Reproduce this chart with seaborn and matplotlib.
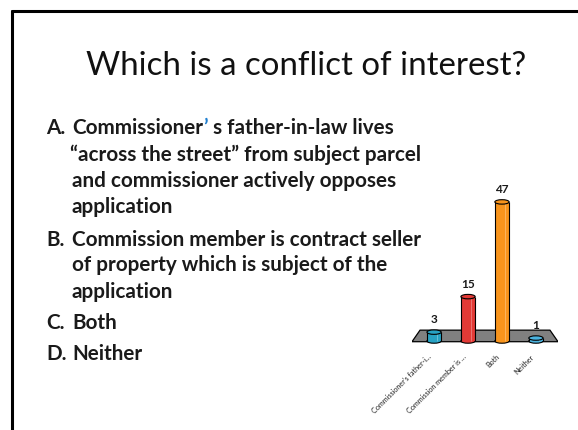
import matplotlib
matplotlib.use("Agg")
import matplotlib.pyplot as plt
import seaborn as sns
import pandas as pd
from matplotlib.patches import Ellipse, Polygon
from matplotlib.lines import Line2D
from matplotlib.transforms import offset_copy

sns.set_style("white")
plt.rcParams['font.family'] = ['Lato', 'DejaVu Sans']

# ---- data ----
categories = ["Commissioner's father-i...", "Commission member is ...", "Both", "Neither"]
votes = [3, 15, 47, 1]
bar_colors = ["#27a2c4", "#e23a36", "#f8941c", "#4ab2de"]

title = "Which is a conflict of interest?"

df = pd.DataFrame({"answer": categories, "votes": votes})

W, H = 578, 430
fig = plt.figure(figsize=(W / 100, H / 100), dpi=100)
renderer = fig.canvas.get_renderer()
bg = fig.add_axes([0, 0, 1, 1])
bg.set_xlim(0, W)
bg.set_ylim(H, 0)
bg.axis("off")


def fit_size(text, target_px, weight="normal", base=10.0):
    t = bg.text(0, 0, text, fontsize=base, fontweight=weight)
    w = t.get_window_extent(renderer=renderer).width
    t.remove()
    return base * target_px / w


# slide border (left + top)
bg.add_line(Line2D([12, 12], [11, H], color="black", lw=2.2))
bg.add_line(Line2D([12, W], [11, 11], color="black", lw=2.2))

title_size = fit_size(title, 440)
bg.text(306, 66, title, ha="center", va="center", fontsize=title_size, color="#111111")

bs = fit_size("and commissioner actively opposes", 325, weight="bold")
body_kw = dict(fontsize=bs, fontweight="bold", color="#1a1a1a", va="center", ha="left")
xl, xc = 46, 72

bg.text(xl, 128, "A.", **body_kw)
tA = bg.text(xc, 128, "Commissioner", **body_kw)
tq = bg.annotate("\u2019", xy=(1, 0.5), xycoords=tA, va="center", ha="left",
                 fontsize=bs, fontweight="bold", color="#1f7fd0")
bg.annotate(" s father-in-law lives", xy=(1, 0.5), xycoords=tq, va="center", ha="left",
            fontsize=bs, fontweight="bold", color="#1a1a1a")
bg.text(xc - 2, 155, "\u201cacross the street\u201d from subject parcel", **body_kw)
bg.text(xc, 181, "and commissioner actively opposes", **body_kw)
bg.text(xc, 207, "application", **body_kw)
bg.text(xl, 240, "B.", **body_kw)
bg.text(xc, 240, "Commission member is contract seller", **body_kw)
bg.text(xc, 265, "of property which is subject of the", **body_kw)
bg.text(xc, 292, "application", **body_kw)
bg.text(xl, 323, "C.", **body_kw)
bg.text(xc, 323, "Both", **body_kw)
bg.text(xl, 354, "D.", **body_kw)
bg.text(xc, 354, "Neither", **body_kw)

# ---- chart ----
ax_left, ax_right, ax_top, ax_bot = 412, 558, 180, 345
ax = fig.add_axes([ax_left / W, 1 - ax_bot / H, (ax_right - ax_left) / W, (ax_bot - ax_top) / H])
ax.patch.set_alpha(0)

bw = 0.42
sns.barplot(data=df, x="answer", y="votes", hue="answer", palette=bar_colors,
            saturation=1, width=bw, linewidth=0, legend=False, ax=ax, zorder=3)
ax.set_xlim(-0.65, 3.65)
ax.set_ylim(-1.35, 54.4)

# floor (decoration, in axes coords)
floor = Polygon([[0.0, 0.02], [1.0, 0.02], [0.945, 0.09], [0.055, 0.09]], closed=True,
                transform=ax.transAxes, facecolor="#808080", edgecolor="black", lw=0.9, zorder=1)
ax.add_patch(floor)

eh = 1.5
for i, (v, c) in enumerate(zip(votes, bar_colors)):
    ax.add_patch(Ellipse((i, 0), bw, eh, facecolor=c, edgecolor="black", lw=0.8, zorder=2.5))
    ax.vlines([i - bw / 2, i + bw / 2], 0, v, colors="black", lw=0.8, zorder=4)
    ax.vlines([i + bw * 0.2], 0, v, colors="white", lw=0.6, alpha=0.35, zorder=4)
    ax.add_patch(Ellipse((i, v), bw, eh, facecolor=c, edgecolor="black", lw=0.8, zorder=5))
    ax.annotate(str(v), xy=(i, v), xytext=(0, 5), textcoords="offset points",
                ha="center", va="bottom", fontsize=8.5, fontweight="bold", color="#1a1a1a")

ax.set_xlabel("")
ax.set_ylabel("")
ax.set_yticks([])
ax.tick_params(axis="x", length=0, pad=6)
ax.set_xticks(range(len(categories)))
ax.set_xticklabels(categories, rotation=45, ha="right", rotation_mode="anchor",
                   fontsize=5.2, color="#222222")
for lab in ax.get_xticklabels():
    lab.set_transform(offset_copy(lab.get_transform(), fig=fig, x=-6, y=0, units="dots"))
for s in ax.spines.values():
    s.set_visible(False)

fig.savefig("out.png", dpi=100)
